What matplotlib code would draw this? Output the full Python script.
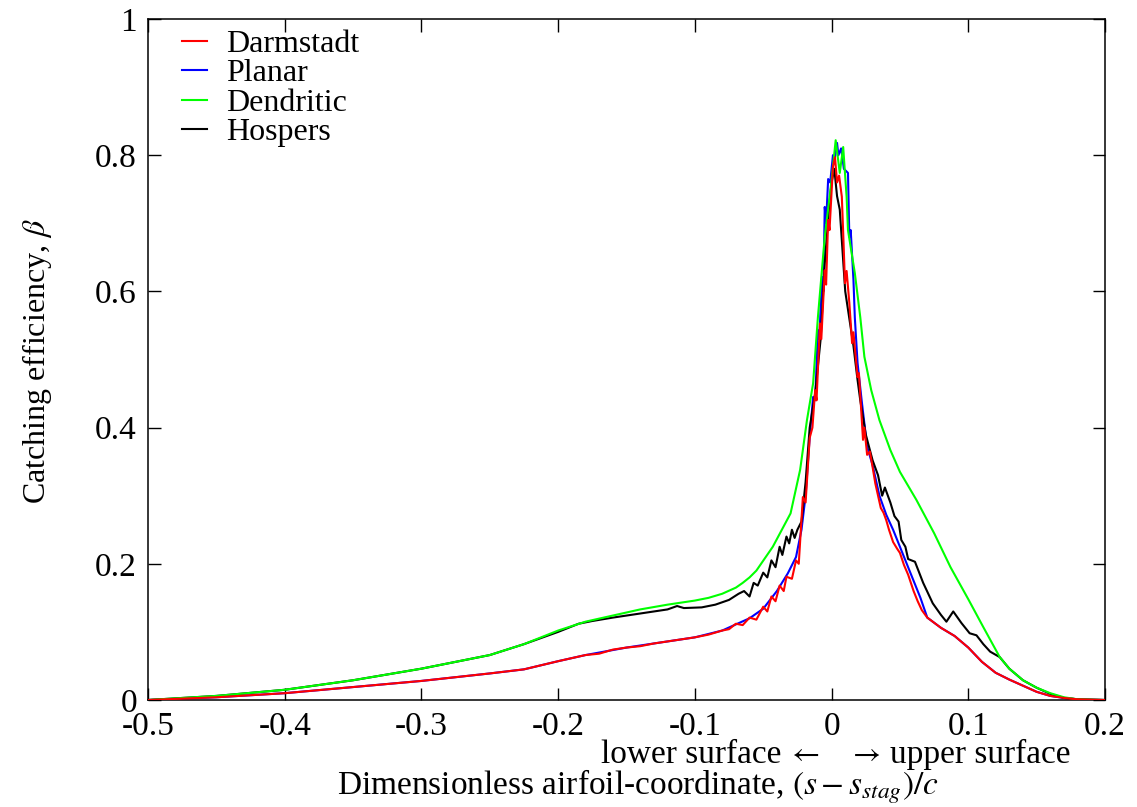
import numpy as np
import matplotlib
matplotlib.use("Agg")
import matplotlib.pyplot as plt
from matplotlib.ticker import FuncFormatter

plt.rcParams['font.family'] = ['Liberation Serif', 'DejaVu Serif']
plt.rcParams['mathtext.fontset'] = 'stix'
plt.rcParams['axes.unicode_minus'] = False

# Darmstadt (red)
darm_x = [-0.5, -0.45, -0.4, -0.35, -0.3, -0.25, -0.225, -0.2, -0.18, -0.17, -0.16, -0.15, -0.14, -0.13,
          -0.12, -0.11, -0.10, -0.09, -0.08, -0.075, -0.07, -0.065, -0.06, -0.055, -0.05, -0.047, -0.044,
          -0.041, -0.038, -0.035, -0.033, -0.029, -0.026, -0.024, -0.021, -0.019, -0.016, -0.014,
          -0.012, -0.011, -0.0085, -0.0075, -0.005, -0.004, -0.0025, -0.0015, 0.001, 0.0025, 0.004, 0.0055,
          0.0075, 0.0085, 0.0098, 0.011, 0.013, 0.015, 0.016, 0.019, 0.020, 0.023, 0.024, 0.026, 0.028,
          0.030, 0.032, 0.034, 0.036, 0.038, 0.040, 0.042, 0.045, 0.048, 0.050, 0.053, 0.056, 0.060, 0.063,
          0.066, 0.070, 0.08, 0.09, 0.10, 0.11, 0.12, 0.13, 0.14, 0.15, 0.16, 0.17, 0.18, 0.2]
darm_y = [0.0, 0.004, 0.010, 0.019, 0.028, 0.039, 0.045, 0.057, 0.066, 0.068, 0.074, 0.077, 0.079, 0.083,
          0.086, 0.089, 0.092, 0.096, 0.102, 0.104, 0.112, 0.110, 0.121, 0.118, 0.137, 0.130, 0.152,
          0.145, 0.168, 0.160, 0.181, 0.178, 0.205, 0.200, 0.298, 0.290, 0.385, 0.400,
          0.455, 0.440, 0.553, 0.530, 0.631, 0.610, 0.705, 0.690, 0.783, 0.797, 0.760, 0.770,
          0.739, 0.686, 0.612, 0.630, 0.583, 0.524, 0.540, 0.474, 0.480, 0.382, 0.400, 0.360, 0.365,
          0.342, 0.318, 0.300, 0.282, 0.275, 0.264, 0.250, 0.232, 0.222, 0.216, 0.198, 0.184, 0.160, 0.145,
          0.132, 0.121, 0.106, 0.094, 0.077, 0.056, 0.040, 0.030, 0.021, 0.012, 0.006, 0.003, 0.001, 0.0]

# Planar (blue)
plan_x = [-0.5, -0.45, -0.4, -0.35, -0.3, -0.25, -0.225, -0.2, -0.18, -0.15, -0.12, -0.10, -0.08, -0.06,
          -0.05, -0.04, -0.032, -0.026, -0.022, -0.019, -0.016, -0.0135, -0.012, -0.010, -0.009, -0.007,
          -0.006, -0.005, -0.004, -0.0025, -0.001, 0.001, 0.002, 0.004, 0.005, 0.007, 0.009, 0.012, 0.013,
          0.014, 0.016, 0.017, 0.019, 0.022, 0.026, 0.030, 0.035, 0.040, 0.045, 0.050, 0.055, 0.060, 0.065,
          0.070, 0.08, 0.09, 0.10, 0.11, 0.12, 0.13, 0.14, 0.15, 0.16, 0.17, 0.18, 0.2]
plan_y = [0.0, 0.004, 0.010, 0.019, 0.028, 0.039, 0.045, 0.057, 0.066, 0.077, 0.086, 0.092, 0.102, 0.120,
          0.134, 0.160, 0.186, 0.210, 0.250, 0.300, 0.386, 0.445, 0.440, 0.543, 0.530, 0.621,
          0.600, 0.724, 0.700, 0.765, 0.760, 0.800, 0.790, 0.818, 0.800, 0.810, 0.780, 0.774, 0.680,
          0.690, 0.617, 0.562, 0.495, 0.440, 0.372, 0.345, 0.300, 0.272, 0.250, 0.225, 0.200, 0.175, 0.150,
          0.121, 0.106, 0.094, 0.077, 0.056, 0.040, 0.030, 0.021, 0.012, 0.006, 0.003, 0.001, 0.0]

# Dendritic (green)
dend_x = [-0.5, -0.45, -0.4, -0.35, -0.3, -0.25, -0.225, -0.2, -0.18, -0.16, -0.14, -0.12, -0.10, -0.09,
          -0.08, -0.07, -0.065, -0.06, -0.055, -0.043, -0.03, -0.023, -0.018, -0.0135, -0.010, -0.005,
          0.0, 0.003, 0.006, 0.0085, 0.011, 0.012, 0.017, 0.021, 0.024, 0.029, 0.035, 0.043, 0.050, 0.062,
          0.075, 0.087, 0.100, 0.111, 0.123, 0.130, 0.140, 0.150, 0.160, 0.170, 0.180, 0.2]
dend_y = [0.0, 0.006, 0.015, 0.029, 0.046, 0.066, 0.082, 0.102, 0.115, 0.124, 0.133, 0.140, 0.146, 0.150,
          0.156, 0.165, 0.172, 0.180, 0.190, 0.225, 0.274, 0.338, 0.411, 0.465, 0.562, 0.680,
          0.763, 0.822, 0.774, 0.812, 0.739, 0.690, 0.627, 0.562, 0.504, 0.455, 0.411, 0.367, 0.335, 0.294,
          0.245, 0.195, 0.148, 0.107, 0.063, 0.046, 0.029, 0.018, 0.010, 0.004, 0.001, 0.0]

# Hospers (black)
hosp_x = [-0.5, -0.45, -0.4, -0.35, -0.3, -0.25, -0.225, -0.2, -0.185, -0.175, -0.16, -0.14, -0.12, -0.113,
          -0.108, -0.095, -0.085, -0.075, -0.068, -0.064, -0.06, -0.057, -0.054, -0.05, -0.047, -0.044,
          -0.041, -0.038, -0.036, -0.033, -0.031, -0.029, -0.027, -0.025, -0.022, -0.019, -0.016, -0.012,
          -0.008, -0.005, -0.002, 0.0, 0.002, 0.004, 0.006, 0.008, 0.010, 0.013, 0.016, 0.019, 0.021, 0.025,
          0.030, 0.034, 0.037, 0.039, 0.043, 0.046, 0.049, 0.051, 0.054, 0.056, 0.061, 0.067, 0.074, 0.080,
          0.084, 0.089, 0.095, 0.101, 0.106, 0.111, 0.116, 0.123, 0.13, 0.14, 0.15, 0.16, 0.17, 0.18, 0.2]
hosp_y = [0.0, 0.006, 0.015, 0.029, 0.046, 0.066, 0.082, 0.100, 0.112, 0.116, 0.121, 0.127, 0.133, 0.138,
          0.135, 0.136, 0.140, 0.147, 0.156, 0.160, 0.152, 0.172, 0.168, 0.187, 0.180, 0.205,
          0.195, 0.225, 0.213, 0.240, 0.230, 0.250, 0.238, 0.250, 0.262, 0.32, 0.40, 0.45,
          0.53, 0.64, 0.72, 0.76, 0.78, 0.74, 0.72, 0.66, 0.60, 0.56, 0.52, 0.47, 0.44, 0.39,
          0.352, 0.33, 0.30, 0.312, 0.29, 0.27, 0.262, 0.235, 0.225, 0.207, 0.203, 0.172, 0.142, 0.125,
          0.115, 0.130, 0.113, 0.098, 0.095, 0.082, 0.071, 0.063, 0.046, 0.029, 0.018, 0.009, 0.003, 0.001, 0.0]

x_ticks = [-0.5, -0.4, -0.3, -0.2, -0.1, 0, 0.1, 0.2]
y_ticks = [0, 0.2, 0.4, 0.6, 0.8, 1]

fig = plt.figure(figsize=(11.37, 8.07), dpi=100)
ax = fig.add_axes([148/1137, 107/807, 957/1137, 681/807])

ax.plot(plan_x, plan_y, color='#0000ff', lw=1.5, label='Planar', zorder=2)
ax.plot(hosp_x, hosp_y, color='black', lw=1.5, label='Hospers', zorder=3)
ax.plot(dend_x, dend_y, color='#00ff00', lw=1.5, label='Dendritic', zorder=4)
ax.plot(darm_x, darm_y, color='#ff0000', lw=1.5, label='Darmstadt', zorder=5)

ax.set_xlim(-0.5, 0.2)
ax.set_ylim(0, 1)
ax.set_xticks(x_ticks)
ax.set_yticks(y_ticks)
fmt = FuncFormatter(lambda v, p: '%g' % round(v, 3))
ax.xaxis.set_major_formatter(fmt)
ax.yaxis.set_major_formatter(fmt)
ax.tick_params(direction='in', length=9, width=1, labelsize=24, top=True, right=True, pad=8)
for s in ax.spines.values():
    s.set_linewidth(1.1)

h, l = ax.get_legend_handles_labels()
order = [l.index(n) for n in ['Darmstadt', 'Planar', 'Dendritic', 'Hospers']]
ax.legend([h[i] for i in order], [l[i] for i in order], loc='upper left', frameon=False,
          fontsize=23, handlelength=0.8, handletextpad=0.6, labelspacing=0.0,
          borderaxespad=0.0, bbox_to_anchor=(0.022, 1.003))

fig.text(37/1137, 1 - 361/807, r'Catching efficiency, $\beta$', rotation=90,
         ha='center', va='center', fontsize=23)

# surface hint under the x tick labels, pinned around the stagnation point
xt = ax.get_xaxis_transform()
ax.text(-0.0365, -0.080, 'lower surface', ha='right', va='center', fontsize=24, transform=xt)
ax.text(-0.0205, -0.080, r'$\leftarrow$', ha='center', va='center', fontsize=22, transform=xt)
ax.text(0.024, -0.080, r'$\rightarrow$', ha='center', va='center', fontsize=22, transform=xt)
ax.text(0.0425, -0.080, 'upper surface', ha='left', va='center', fontsize=24, transform=xt)

fig.text(638/1137, 1 - 787/807, r'Dimensionless airfoil-coordinate, $(s - s_{stag})/c$',
         ha='center', va='center', fontsize=24)

fig.savefig('out.png', dpi=100)
